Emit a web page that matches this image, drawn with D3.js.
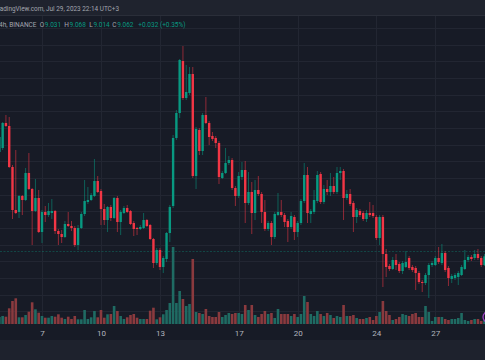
<!DOCTYPE html>
<html><head><meta charset="utf-8">
<script src="https://cdn.jsdelivr.net/npm/d3@7"></script>
<style>html,body{margin:0;padding:0;background:#171b26;overflow:hidden}svg{display:block}</style>
</head><body><svg id="c" width="485" height="360"></svg>
<script>
// ATOMUSDT, 4h, BINANCE — bars every 4h, first bar 13 bars before Jul 7 03:00 (UTC+3)
const firstBar = -13;
const openP = [
9.656,9.680,9.830,9.812,9.566,9.308,9.296,9.392,9.368,9.530,
9.434,9.302,9.380,9.176,9.296,9.278,9.290,9.302,9.182,9.164,
9.146,9.224,9.212,9.200,9.098,9.200,9.284,9.356,9.368,9.392,
9.482,9.422,9.314,9.248,9.326,9.260,9.380,9.236,9.290,9.320,
9.302,9.230,9.200,9.194,9.200,9.248,9.218,9.134,8.990,9.068,
8.966,9.014,9.170,9.332,9.740,9.890,10.202,9.980,10.010,10.124,
9.512,9.788,9.662,9.878,9.830,9.752,9.740,9.710,9.500,9.530,
9.590,9.608,9.440,9.392,9.506,9.548,9.350,9.416,9.290,9.428,
9.404,9.296,9.194,9.230,9.146,9.278,9.296,9.278,9.242,9.206,
9.266,9.176,9.230,9.362,9.518,9.284,9.296,9.362,9.524,9.356,
9.434,9.416,9.452,9.416,9.530,9.542,9.380,9.404,9.350,9.266,
9.302,9.290,9.254,9.290,9.290,9.266,9.140,9.266,9.044,8.972,
8.954,9.008,8.984,8.942,8.966,9.020,8.966,8.960,8.930,8.876,
8.870,8.918,8.978,8.978,9.020,8.990,9.050,8.960,8.894,8.900,
8.906,8.918,8.954,9.008,9.026,9.020,9.044,9.020,8.978,9.031];
const highP = [
9.770,9.836,9.878,9.866,9.578,9.668,9.398,9.398,9.560,9.650,
9.440,9.494,9.428,9.308,9.332,9.350,9.374,9.308,9.194,9.188,
9.242,9.296,9.242,9.212,9.218,9.296,9.488,9.446,9.410,9.614,
9.512,9.434,9.344,9.332,9.338,9.386,9.392,9.308,9.332,9.338,
9.308,9.242,9.206,9.218,9.290,9.254,9.224,9.140,9.080,9.080,
9.032,9.176,9.338,9.758,9.908,10.214,10.292,10.178,10.166,10.166,
9.806,9.800,9.890,9.986,9.842,9.776,9.752,9.722,9.542,9.680,
9.632,9.620,9.452,9.536,9.596,9.602,9.536,9.476,9.488,9.512,
9.416,9.368,9.242,9.242,9.296,9.410,9.368,9.290,9.254,9.296,
9.278,9.242,9.374,9.590,9.566,9.314,9.428,9.542,9.536,9.458,
9.488,9.530,9.506,9.566,9.566,9.554,9.428,9.434,9.362,9.320,
9.314,9.302,9.308,9.356,9.338,9.278,9.278,9.278,9.074,8.984,
9.026,9.044,8.996,9.002,9.062,9.032,8.978,8.972,8.942,8.888,
8.930,8.990,9.002,9.032,9.086,9.104,9.062,8.972,8.924,8.930,
8.942,8.978,9.068,9.038,9.038,9.068,9.074,9.032,9.044,9.068];
const lowP = [
9.638,9.668,9.806,9.560,9.254,9.284,9.260,9.278,9.362,9.428,
9.098,9.296,9.170,9.110,9.236,9.266,9.254,9.164,9.098,9.110,
9.140,9.206,9.182,9.086,9.068,9.194,9.272,9.344,9.362,9.386,
9.410,9.218,9.218,9.176,9.242,9.254,9.176,9.158,9.284,9.290,
9.218,9.152,9.158,9.188,9.194,9.206,9.128,8.960,8.978,8.948,
8.930,8.996,9.116,9.320,9.728,9.860,9.968,9.968,9.998,9.500,
9.434,9.638,9.638,9.824,9.698,9.722,9.680,9.464,9.494,9.524,
9.578,9.428,9.332,9.380,9.488,9.230,9.338,9.164,9.248,9.392,
9.230,9.182,9.182,9.098,9.134,9.272,9.266,9.206,9.116,9.194,
9.128,9.146,9.218,9.350,9.230,9.230,9.284,9.350,9.344,9.344,
9.398,9.392,9.404,9.404,9.488,9.248,9.368,9.332,9.176,9.230,
9.266,9.242,9.236,9.266,9.260,9.128,9.098,8.846,8.906,8.942,
8.948,8.948,8.930,8.924,8.960,8.948,8.936,8.828,8.864,8.816,
8.858,8.780,8.966,8.972,8.984,8.978,8.936,8.852,8.870,8.888,
8.858,8.912,8.948,8.996,9.002,9.008,9.008,8.966,8.972,9.014];
const closeP = [
9.746,9.830,9.812,9.566,9.308,9.290,9.392,9.368,9.530,9.434,
9.302,9.380,9.176,9.296,9.278,9.302,9.302,9.182,9.164,9.146,
9.224,9.212,9.200,9.098,9.200,9.284,9.362,9.368,9.398,9.482,
9.416,9.314,9.248,9.326,9.260,9.380,9.236,9.296,9.320,9.296,
9.224,9.194,9.194,9.206,9.248,9.212,9.134,8.990,9.068,8.966,
9.020,9.170,9.326,9.740,9.890,10.208,9.980,10.016,10.124,9.512,
9.794,9.662,9.878,9.830,9.746,9.734,9.710,9.506,9.530,9.590,
9.608,9.440,9.392,9.512,9.548,9.350,9.416,9.290,9.428,9.404,
9.296,9.194,9.230,9.146,9.284,9.296,9.278,9.236,9.206,9.272,
9.176,9.230,9.362,9.518,9.290,9.302,9.368,9.518,9.356,9.434,
9.416,9.452,9.416,9.530,9.542,9.380,9.404,9.344,9.266,9.308,
9.278,9.254,9.290,9.278,9.272,9.140,9.266,9.044,8.966,8.954,
9.008,8.978,8.942,8.990,8.996,8.960,8.948,8.930,8.876,8.870,
8.918,8.978,8.990,9.020,8.996,9.050,8.948,8.900,8.912,8.918,
8.930,8.966,9.008,9.026,9.014,9.044,9.020,8.978,9.030,9.062];
// volume, thousands of ATOM
const volume = [
70,80,73,157,230,257,67,67,90,123,
217,147,113,80,63,63,80,73,97,63,
50,73,50,80,47,47,140,50,67,130,
67,140,63,97,100,180,130,80,50,67,
90,100,63,50,50,50,133,163,47,67,
97,140,210,770,210,330,250,180,200,650,
120,110,100,150,80,70,70,120,70,90,
110,100,110,110,100,190,140,190,90,70,
100,130,100,110,60,150,100,100,100,80,
100,70,100,280,220,100,80,130,100,80,
110,90,60,80,70,190,80,80,90,60,
50,50,60,70,40,80,120,230,130,90,
40,50,70,100,90,80,100,110,70,70,
180,120,30,70,70,70,50,40,50,50,
60,110,40,30,40,50,50,30,40,20];
const dayTicks = [7,10,13,17,20,24,27];
const dayLabels = ["7","10","13","17","20","24","27"];

const W = 485, H = 360;
const H4 = 4*3600*1000;
const t0 = Date.UTC(2023,6,7,0,0); // Jul 7 03:00 UTC+3
const bars = openP.map((o,k)=>({
  t: new Date(t0 + (k+firstBar)*H4),
  o, h: highP[k], l: lowP[k], c: closeP[k], v: volume[k]
}));

const GREEN = "#089981", RED = "#f23645";
const VGREEN = "#1f6b63", VRED = "#8a3a3e";
const BG = "#171b26";
const FONT = "Roboto, 'Noto Sans', sans-serif";
const TXT = "#a3a6af";

const svg = d3.select("#c");
svg.append("rect").attr("width",W).attr("height",H).attr("fill",BG);

const x = d3.scaleTime()
  .domain([new Date(t0 - 12.81*H4), new Date(t0 + 135.15*H4)])
  .range([0, W]);
const y = d3.scaleLinear().domain([8.624, 10.568]).range([324, 0]);
const yv = d3.scaleLinear().domain([0, 1000]).range([324, 224]);

const paneTop = 15, paneBottom = 324;

// grid
const grid = svg.append("g");
grid.selectAll("line.h").data(y.ticks(20).filter(p => y(p) > paneTop && y(p) < paneBottom))
  .join("line").attr("class","h")
  .attr("x1",0).attr("x2",W)
  .attr("y1",d=>Math.round(y(d))+0.5).attr("y2",d=>Math.round(y(d))+0.5)
  .attr("stroke","#222632").attr("stroke-width",1);
const tickDates = dayTicks.map(d => new Date(Date.UTC(2023,6,d,0,0)));
grid.selectAll("line.v").data(tickDates)
  .join("line").attr("class","v")
  .attr("x1",d=>Math.round(x(d))+0.5).attr("x2",d=>Math.round(x(d))+0.5)
  .attr("y1",paneTop).attr("y2",paneBottom)
  .attr("stroke","#222632").attr("stroke-width",1);

svg.append("clipPath").attr("id","clip").append("rect")
  .attr("x",0).attr("y",paneTop).attr("width",W).attr("height",paneBottom-paneTop);
const plot = svg.append("g").attr("clip-path","url(#clip)");

// volume
const vw = 2.6;
plot.append("g").selectAll("rect").data(bars).join("rect")
  .attr("x",d=>x(d.t)-vw/2).attr("width",vw)
  .attr("y",d=>yv(d.v)).attr("height",d=>yv(0)-yv(d.v))
  .attr("fill",d=>d.c>=d.o?VGREEN:VRED);

// price line (last close)
const last = bars[bars.length-1], prev = bars[bars.length-2];
plot.append("line")
  .attr("x1",0).attr("x2",W)
  .attr("y1",Math.round(y(last.c))+0.5).attr("y2",Math.round(y(last.c))+0.5)
  .attr("stroke",GREEN).attr("stroke-opacity",0.35).attr("stroke-dasharray","2,1.5");

// candles
const bw = 2.4;
const cg = plot.append("g");
cg.selectAll("line").data(bars).join("line")
  .attr("x1",d=>x(d.t)).attr("x2",d=>x(d.t))
  .attr("y1",d=>y(d.h)).attr("y2",d=>y(d.l))
  .attr("stroke",d=>d.c>=d.o?GREEN:RED).attr("stroke-width",1).attr("stroke-opacity",0.55);
cg.selectAll("rect").data(bars).join("rect")
  .attr("x",d=>x(d.t)-bw/2).attr("width",bw)
  .attr("y",d=>y(Math.max(d.o,d.c)))
  .attr("height",d=>Math.max(1,Math.abs(y(d.o)-y(d.c))))
  .attr("fill",d=>d.c>=d.o?GREEN:RED);

// event marker (purple circle at right edge of volume pane)
svg.append("circle").attr("cx",488.5).attr("cy",317).attr("r",5.5)
  .attr("fill","none").attr("stroke","#9c3fc4").attr("stroke-width",1.3);

// time axis
const ax = svg.append("g").attr("transform",`translate(0,${paneBottom})`)
  .call(d3.axisBottom(x).tickValues(tickDates).tickFormat((d,i)=>dayLabels[i]).tickSize(0).tickPadding(6));
ax.select(".domain").remove();
ax.selectAll("text").attr("fill","#b2b5be").attr("font-size","8px").attr("font-family",FONT);

// bottom strip
svg.append("rect").attr("x",0).attr("y",340).attr("width",W).attr("height",20).attr("fill","#1e222d");

// top bar
svg.append("rect").attr("x",0).attr("y",0).attr("width",W).attr("height",15).attr("fill","#1f232e");
svg.append("line").attr("x1",0).attr("x2",W).attr("y1",15.5).attr("y2",15.5).attr("stroke","#2a2e39");
svg.append("text").attr("x",119).attr("y",10.5).attr("text-anchor","end")
  .attr("font-family",FONT).attr("font-size","6.4px").attr("fill",TXT)
  .text("TradingView.com, Jul 29, 2023 22:14 UTC+3");

// legend row
const f3 = d3.format(".3f");
const chg = last.c - prev.c, pct = chg/prev.c*100;
const lg = svg.append("g").attr("font-family",FONT).attr("font-size","6.5px");
lg.append("text").attr("x",36.5).attr("y",26.6).attr("text-anchor","end").attr("fill",TXT)
  .text("ATOMUSDT, 4h, BINANCE");
const items = [["O",last.o,39.7],["H",last.h,64.3],["L",last.l,89.3],["C",last.c,112.3]];
items.forEach(([k,v,px])=>{
  const t = lg.append("text").attr("x",px).attr("y",26.6);
  t.append("tspan").attr("fill",TXT).text(k);
  t.append("tspan").attr("fill",GREEN).attr("dx",0.6).text(f3(v));
});
lg.append("text").attr("x",138.3).attr("y",26.6).attr("fill",GREEN)
  .text(`${chg>=0?"+":""}${f3(chg)} (${pct>=0?"+":""}${pct.toFixed(2)}%)`);
</script>
</body></html>
